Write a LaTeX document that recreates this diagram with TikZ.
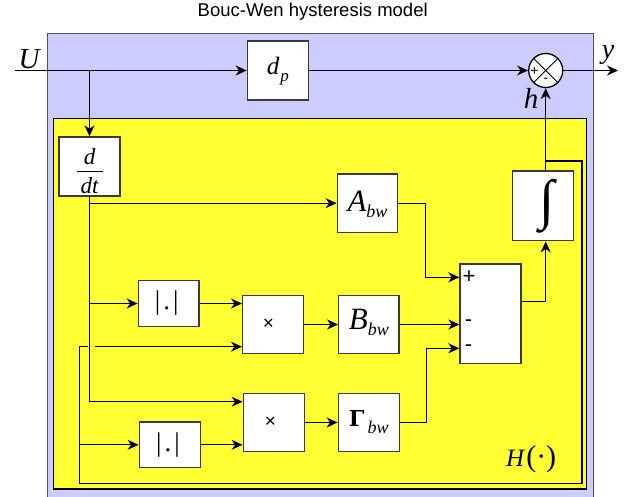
\documentclass[tikz,border=0pt]{standalone}
\usepackage{fontspec}
\setmainfont{Liberation Serif}
\newfontfamily\sansf{Liberation Sans}
\newfontfamily\slabf{DejaVu Serif}
\usetikzlibrary{arrows.meta}
\definecolor{bluebg}{HTML}{CCCCFF}
\definecolor{yellowbg}{HTML}{FFFF33}
\definecolor{boxline}{HTML}{3A3A3A}
\definecolor{bluedge}{HTML}{505060}
\newcommand{\fs}[1]{\fontsize{#1}{#1}\selectfont}
\newcommand{\lift}[2]{\raisebox{-#1pt}[0pt][0pt]{#2}}
\begin{document}
\begin{tikzpicture}[x=1pt,y=-1pt,
  blk/.style 2 args={draw=boxline,line width=1.4pt,fill=white,inner sep=0pt,minimum width=#1,minimum height=#2},
  sig/.style={line width=1.3pt,draw=black},
  arr/.style={sig,-{Stealth[length=11pt,width=10pt,inset=3.5pt]}},
  sgn/.style={inner sep=0pt,font=\sansf\fs{22}},
  lbl/.style={inner sep=0pt,anchor=base}]
\useasboundingbox (0,0) rectangle (628,497);
% title
\node[lbl,font=\sansf\fs{18.5}] (title) at (312.7,16.7) {Bouc-Wen hysteresis model};
% backgrounds
\fill[bluebg] (47.5,33.5) rectangle (593.3,498);
\draw[bluedge,line width=1pt] (47.5,498) -- (47.5,33.5) -- (593.3,33.5) -- (593.3,498);
\draw[fill=yellowbg,draw=black,line width=1.3pt] (53.3,118.5) rectangle (586.5,489);
% blocks
\node[blk={61pt}{59pt}] (dp) at (277.8,70.5) {\lift{4}{\itshape\fs{25}d\hspace{1pt}\raisebox{-7pt}{\fs{17}p}}};
\node[circle,draw=black,line width=1.3pt,fill=white,minimum size=34pt,inner sep=0pt] (sumc) at (545.7,70.5) {};
\draw[line width=1pt] (sumc.45) -- (sumc.225) (sumc.135) -- (sumc.315);
\node[sgn,font=\sansf\fs{14}] (cplus) at (534.5,71.5) {+};
\node[sgn,font=\sansf\fs{14}] (cminus) at (545.7,80.5) {-};
\node[blk={60.7pt}{59pt}] (ddt) at (89.5,166.5) {\lift{27}{\itshape\fs{23}\shortstack{d\\[3pt]\rule{26pt}{1pt}\\[3pt]dt}}};
\node[blk={60.4pt}{58.3pt}] (Abw) at (367.5,203.2) {\lift{8}{\itshape\fs{31}A\raisebox{-6pt}{\fs{18}bw}}};
\node[blk={61pt}{69.7pt}] (integ) at (542.8,205.9) {\hspace{8pt}\resizebox*{!}{54pt}{∫}};
\node[blk={61pt}{99.3pt}] (sumb) at (490.5,313.7) {};
\node[sgn] (splus) at (469,277.3) {+};
\node[sgn] (sminus1) at (468.5,323.5) {-};
\node[sgn] (sminus2) at (468.5,348.3) {-};
\node[blk={60.7pt}{45.7pt}] (abs1) at (168.7,303.5) {\hspace{-4pt}\fs{27}|\hspace{3pt}.\hspace{3pt}|};
\node[blk={60.6pt}{58.3pt}] (mul1) at (273,324.5) {\hspace{-9pt}\sansf\fs{19}×};
\node[blk={60.3pt}{57.7pt}] (Bbw) at (368.9,324.5) {\lift{5}{\itshape\fs{31}B\raisebox{-6pt}{\fs{18}bw}}};
\node[blk={61pt}{58.4pt}] (mul2) at (273.8,422.5) {\hspace{-7pt}\sansf\fs{19}×};
\node[blk={61.4pt}{45.6pt}] (abs2) at (170,444.8) {\hspace{-4pt}\fs{27}|\hspace{3pt}.\hspace{3pt}|};
\node[blk={61pt}{58.4pt}] (Gbw) at (368.8,422.5) {\lift{4}{{\slabf\bfseries\fs{22}Γ}\hspace{3pt}\raisebox{-7pt}{\itshape\fs{18}bw}}};
% labels
\node[lbl,font=\itshape\fs{29}] (Ulbl) at (29,68.3) {U};
\node[lbl,font=\itshape\fs{28}] (ylbl) at (608,59) {y};
\node[lbl,font=\itshape\fs{29}] (hlbl) at (531,108.3) {h};
\node[inner sep=0pt,anchor=base west] (Hlbl) at (506,466) {{\itshape\fs{25}H}\hspace{2pt}{\fs{30}(·)}};
% connectors
\coordinate (Uin) at (15,70.5);
\coordinate (jU) at (ddt.north |- Uin);
\coordinate (yout) at (618,70.5);
\draw[arr] (Uin) -- (dp.west);
\draw[arr] (jU) -- (ddt.north);
\draw[arr] (dp.east) -- (sumc.west);
\draw[arr] (sumc.east) -- (yout);
\draw[arr] (sumc.south |- integ.north) -- (sumc.south);
\draw[arr] (ddt.south) |- ([yshift=20.8pt]mul2.west);
\draw[arr] (ddt.south |- Abw.west) -- (Abw.west);
\draw[arr] (ddt.south |- abs1.west) -- (abs1.west);
\draw[arr] (abs1.east) -- (mul1.west |- abs1.east);
\draw[arr] (mul1.east) -- (Bbw.west |- mul1.east);
\draw[arr] (Bbw.east) -- (sumb.west |- Bbw.east);
\draw[arr] (Abw.east) -- ++(27.3,0) |- ([yshift=36.4pt]sumb.west);
\draw[arr] (Gbw.east) -- ++(26.4,0) |- ([yshift=-34.6pt]sumb.west);
\draw[arr] ([yshift=12pt]sumb.east) -| (sumc.south |- integ.south);
\draw[arr] (mul2.east) -- (Gbw.west |- mul2.east);
% feedback of h
\coordinate (fbT) at (545.7,161);
\coordinate (fbBL) at (79.3,483.5);
\coordinate (gapL) at (87.5,346.7);
\coordinate (gapR) at (95,346.7);
\draw[sig] (fbT) -- ++(36.3,0) |- (fbBL) |- (gapL);
\draw[arr] (gapR) -- (mul1.west |- gapR);
\draw[arr] (fbBL |- abs2.west) -- (abs2.west);
\draw[arr] (abs2.east) -- (mul2.west |- abs2.east);
\end{tikzpicture}
\end{document}
